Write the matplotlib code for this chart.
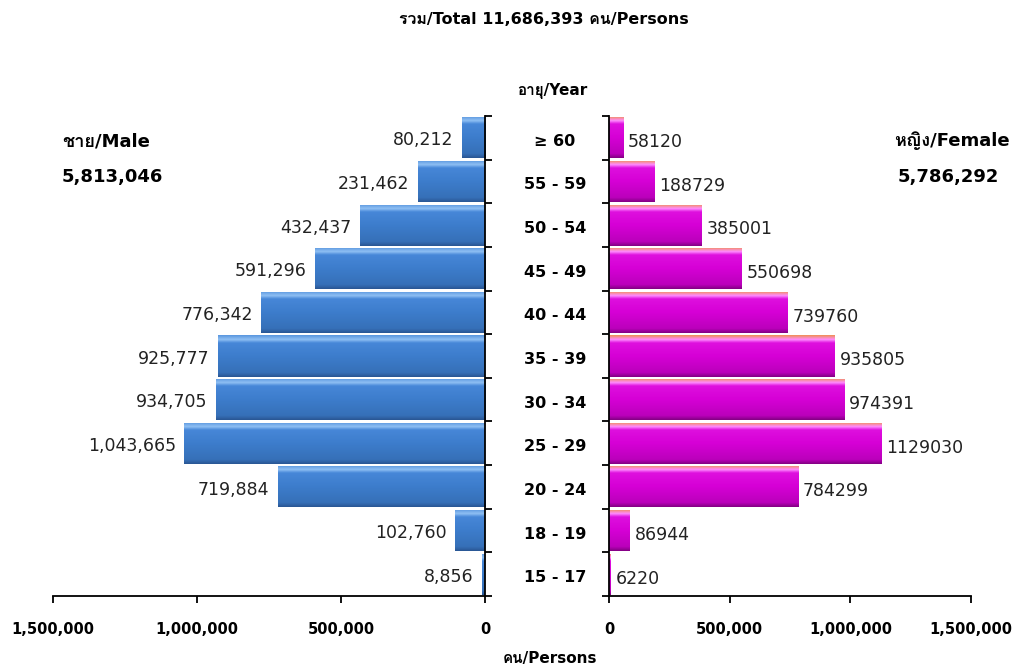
import matplotlib
matplotlib.use('Agg')
import matplotlib.pyplot as plt
import numpy as np
from matplotlib import font_manager
from matplotlib.ft2font import FT2Font
from matplotlib.colors import LinearSegmentedColormap

# ข้อมูล
ages = ['15 - 17', '18 - 19', '20 - 24', '25 - 29', '30 - 34', '35 - 39',
        '40 - 44', '45 - 49', '50 - 54', '55 - 59', '≥ 60']
male = [8856, 102760, 719884, 1043665, 934705, 925777, 776342, 591296, 432437, 231462, 80212]
female = [6220, 86944, 784299, 1129030, 974391, 935805, 739760, 550698, 385001, 188729, 58120]
x_ticks = [0, 500000, 1000000, 1500000]


# หาฟอนต์ที่มีอักษรไทย
def find_thai_font():
    for f in font_manager.fontManager.ttflist:
        try:
            ft = FT2Font(f.fname)
            if 0x0E04 in ft.get_charmap():
                return f.name
        except Exception:
            pass
    return None


thai = find_thai_font()
fams = ['DejaVu Sans']
if thai:
    fams.append(thai)
plt.rcParams['font.family'] = fams

male_cmap = LinearSegmentedColormap.from_list('m', [
    (0.0, '#2a5795'), (0.1, '#3670b8'), (0.5, '#3d7dcc'),
    (0.82, '#4787d8'), (0.9, '#8fc0f4'), (1.0, '#5b97df')])
female_cmap = LinearSegmentedColormap.from_list('f', [
    (0.0, '#850085'), (0.1, '#bb00bb'), (0.5, '#d600d6'),
    (0.82, '#de10de'), (0.9, '#ff8cff'), (1.0, '#f0905a')])


def gradient_bars(ax, y, vals, cmap, h=0.94):
    bars = ax.barh(y, vals, height=h, color='none', edgecolor='none')
    grad = np.linspace(0, 1, 64).reshape(-1, 1)
    for b in bars:
        x0, y0 = b.get_x(), b.get_y()
        w, hh = b.get_width(), b.get_height()
        im = ax.imshow(grad, cmap=cmap, origin='lower', aspect='auto',
                       extent=(x0, x0 + w, y0, y0 + hh), zorder=2)
        im.set_clip_path(b)
    return bars


fig = plt.figure(figsize=(10.17, 6.68), dpi=100)
axm = fig.add_axes([53 / 1017, 72 / 668, 432 / 1017, 480 / 668])
axf = fig.add_axes([609 / 1017, 72 / 668, 362 / 1017, 480 / 668])

y = np.arange(len(ages))
gradient_bars(axm, y, male, male_cmap)
gradient_bars(axf, y, female, female_cmap)

for ax in (axm, axf):
    ax.set_xlim(0, 1500000)
    ax.set_ylim(-0.5, len(ages) - 0.5)
    ax.set_yticks(np.arange(-0.5, len(ages), 1.0))
    ax.set_yticklabels([])
    ax.set_xticks(x_ticks)
    ax.set_xticklabels([f'{v:,}' for v in x_ticks], fontsize=10.5, fontweight='bold')
    ax.tick_params(axis='both', length=5, width=1.3, pad=14)
    ax.tick_params(axis='y', pad=2)
    ax.spines['top'].set_visible(False)
    for s in ax.spines.values():
        s.set_linewidth(1.3)

axm.invert_xaxis()
axm.spines['left'].set_visible(False)
axm.yaxis.tick_right()
axf.spines['right'].set_visible(False)

# ป้ายค่า
for yi, v in zip(y, male):
    axm.text(v + 30000, yi - 0.06, f'{v:,}', ha='right', va='center', fontsize=12.5, color='#222222')
for yi, v in zip(y, female):
    axf.text(v + 20000, yi - 0.1, f'{v}', ha='left', va='center', fontsize=12.5, color='#222222')

# ช่วงอายุ
for yi, lab in zip(y, ages):
    axm.text(1.162, yi - 0.08, lab, transform=axm.get_yaxis_transform(), ha='center', va='center',
             fontsize=11.5, fontweight='bold')

fig.text(544 / 1017, 1 - 20 / 668, 'รวม/Total 11,686,393 คน/Persons', ha='center', va='center',
         fontsize=11.5, fontweight='bold')
fig.text(552 / 1017, 1 - 91 / 668, 'อายุ/Year', ha='center', va='center', fontsize=11, fontweight='bold')
fig.text(550 / 1017, 1 - 658 / 668, 'คน/Persons', ha='center', va='center', fontsize=11, fontweight='bold')
fig.text(62 / 1017, 1 - 141 / 668, 'ชาย/Male', ha='left', va='center', fontsize=13, fontweight='bold')
fig.text(62 / 1017, 1 - 177 / 668, '5,813,046', ha='left', va='center', fontsize=13, fontweight='bold')
fig.text(1010 / 1017, 1 - 141 / 668, 'หญิง/Female', ha='right', va='center', fontsize=13, fontweight='bold')
fig.text(948 / 1017, 1 - 177 / 668, '5,786,292', ha='center', va='center', fontsize=13, fontweight='bold')

fig.savefig('out.png', dpi=100)
